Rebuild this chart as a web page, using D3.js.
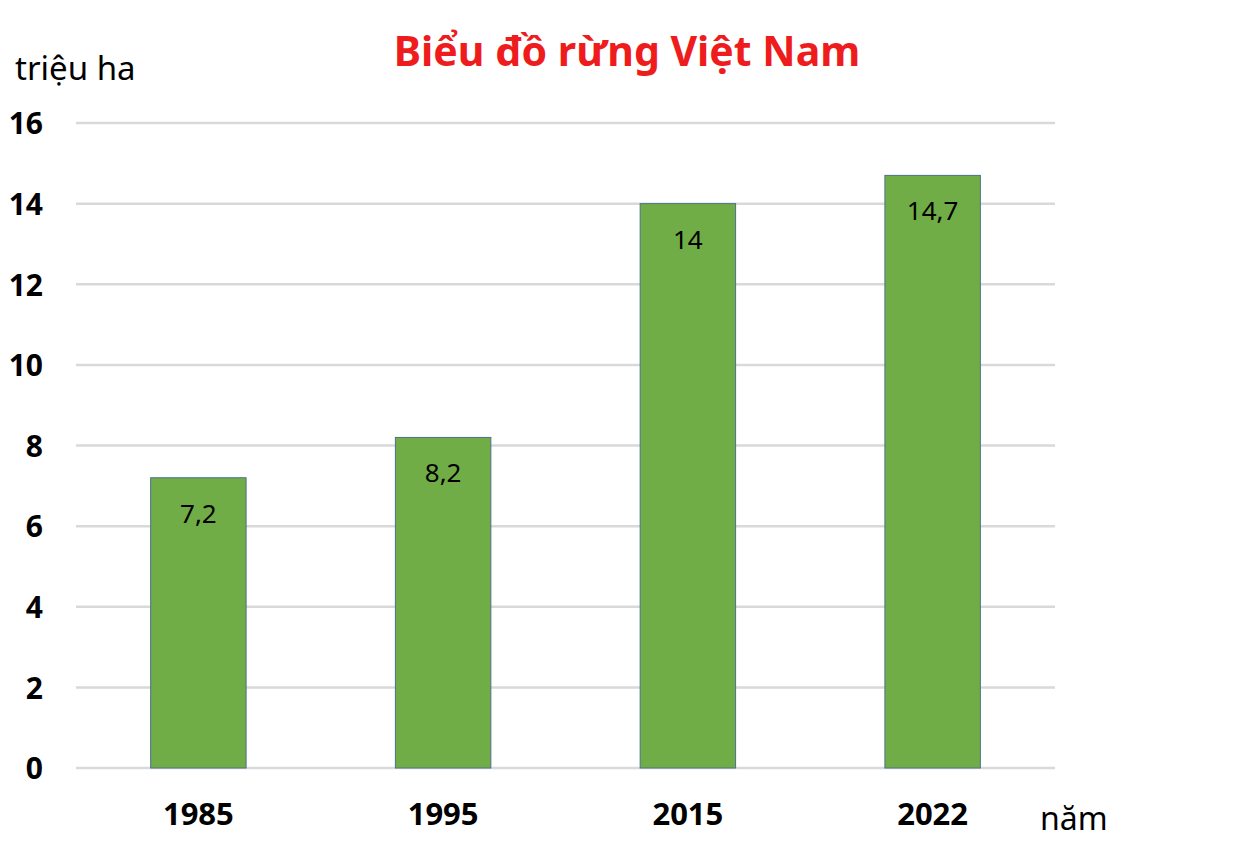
<!DOCTYPE html>
<html>
<head>
<meta charset="utf-8">
<script src="https://cdn.jsdelivr.net/npm/d3@7"></script>
<style>
  body { margin: 0; background: #fff; }
  text { font-family: "Noto Sans", "Open Sans", sans-serif; }
</style>
</head>
<body>
<div id="chart"></div>
<script>
// số liệu
var years = ["1985", "1995", "2015", "2022"]
var forest = [7.2, 8.2, 14, 14.7]
var labels = ["7,2", "8,2", "14", "14,7"]
var yTicks = [0, 2, 4, 6, 8, 10, 12, 14, 16]

var W = 1248, H = 846
var plotLeft = 76, plotRight = 1055, plotTop = 123, plotBottom = 768

var svg = d3.select("#chart").append("svg")
    .attr("width", W)
    .attr("height", H)

var x = d3.scaleBand()
    .domain(years)
    .range([plotLeft, plotRight])
    .paddingInner(0.61)
    .paddingOuter(0.305)

var y = d3.scaleLinear()
    .domain([0, 16])
    .range([plotBottom, plotTop])

// lưới
svg.append("g")
    .selectAll("line")
    .data(yTicks)
    .enter().append("line")
    .attr("x1", plotLeft)
    .attr("x2", plotRight)
    .attr("y1", d => y(d))
    .attr("y2", d => y(d))
    .style("stroke", "#d9d9d9")
    .style("stroke-width", 2.5)

// trục y
var yAxis = svg.append("g")
    .attr("transform", "translate(" + plotLeft + ",0)")
    .call(d3.axisLeft(y).tickValues(yTicks).tickSize(0).tickPadding(33))
yAxis.select(".domain").remove()
yAxis.selectAll("text")
    .attr("dy", "0.36em")
    .style("font-size", "30px")
    .style("font-weight", "bold")
    .style("fill", "#000")

// cột
svg.append("g")
    .selectAll("rect")
    .data(forest)
    .enter().append("rect")
    .attr("x", (d, i) => x(years[i]))
    .attr("y", d => y(d))
    .attr("width", x.bandwidth())
    .attr("height", d => y(0) - y(d))
    .style("fill", "#70ad47")
    .style("stroke", "#4e6f8c")
    .style("stroke-width", 1)

// nhãn giá trị
svg.append("g")
    .selectAll("text")
    .data(forest)
    .enter().append("text")
    .attr("x", (d, i) => x(years[i]) + x.bandwidth() / 2)
    .attr("y", d => y(d) + 45)
    .attr("text-anchor", "middle")
    .style("font-size", "26px")
    .style("fill", "#000")
    .text((d, i) => labels[i])

// trục x
var xAxis = svg.append("g")
    .attr("transform", "translate(0," + plotBottom + ")")
    .call(d3.axisBottom(x).tickSize(0).tickPadding(0))
xAxis.select(".domain").remove()
xAxis.selectAll("text")
    .attr("y", 57)
    .attr("dy", 0)
    .style("font-size", "31px")
    .style("font-weight", "bold")
    .style("fill", "#000")

// tiêu đề và tên trục
svg.append("text")
    .attr("x", 627)
    .attr("y", 66)
    .attr("text-anchor", "middle")
    .style("font-size", "41px")
    .style("font-weight", "bold")
    .style("fill", "#ee1c1c")
    .text("Biểu đồ rừng Việt Nam")

svg.append("text")
    .attr("x", 15)
    .attr("y", 80)
    .style("font-size", "33px")
    .style("fill", "#000")
    .text("triệu ha")

svg.append("text")
    .attr("x", 1040)
    .attr("y", 830)
    .style("font-size", "32px")
    .style("fill", "#000")
    .text("năm")
</script>
</body>
</html>
